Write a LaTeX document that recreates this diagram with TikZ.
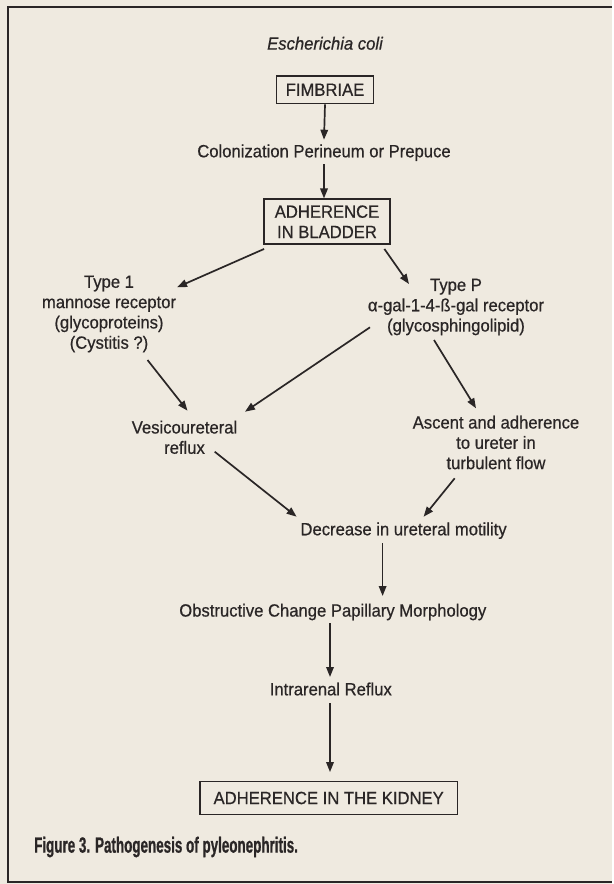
\documentclass[tikz,border=0pt]{standalone}
\usepackage{fontspec}
\setmainfont{Liberation Sans}[FakeStretch=0.94, FakeBold=0.6]
\newfontfamily\capfont{Liberation Sans}[FakeStretch=0.61, FakeBold=0.8]
\usepackage{tikz}
\usetikzlibrary{arrows.meta,calc}
\definecolor{paper}{RGB}{239,234,224}
\definecolor{ink}{RGB}{42,38,38}
\tikzset{
  txt/.style={text=ink, align=center, inner sep=0pt, font=\fontsize{17.7}{20.3}\selectfont},
  box/.style={txt, draw=ink, line width=1.8pt},
  arr/.style={draw=ink, line width=1.7pt, -{Triangle[length=10pt,width=7.5pt]}}
}

\begin{document}
\begin{tikzpicture}[x=1pt,y=-1pt]
\fill[paper] (0,0) rectangle (612,884);
\draw[ink, line width=2.2pt] (612,7) -- (8.3,7) -- (8.3,882) -- (612,882);
% main chain
\node[txt, font=\fontsize{17.7}{20.3}\selectfont\itshape] (ecoli) at (325,43.3) {Escherichia coli};
\node[box, minimum width=97pt, minimum height=27.5pt] (fimb) at (325,89.7) {FIMBRIAE};
\node[txt] (colon) at (324,152.7) {Colonization Perineum or Prepuce};
\node[box, minimum width=126pt, minimum height=44.7pt] (adh) at (327,221.7) {ADHERENCE\\IN BLADDER};
\node[txt] (type1) at (109,314) {Type 1\\mannose receptor\\(glycoproteins)\\(Cystitis ?)};
\node[txt] (typeP) at (456,307) {Type P\\α-gal-1-4-ß-gal receptor\\(glycosphingolipid)};
\node[txt] (vesico) at (184.5,437.3) {Vesicoureteral\\reflux};
\node[txt] (ascent) at (496,442.5) {Ascent and adherence\\to ureter in\\turbulent flow};
\node[txt] (decr) at (403.6,530.7) {Decrease in ureteral motility};
\node[txt] (obstr) at (332.8,612) {Obstructive Change Papillary Morphology};
\node[txt] (intra) at (330.8,689) {Intrarenal Reflux};
\node[box, minimum width=257.5pt, minimum height=33pt] (kidney) at (328.7,798) {ADHERENCE IN THE KIDNEY};
\node[anchor=west, text=ink, inner sep=0pt, font=\capfont\bfseries\fontsize{22}{25}\selectfont] (caption) at (34,847) {Figure 3. Pathogenesis of pyleonephritis.};
% arrows
\draw[arr] (fimb.south) -- ($(colon)+(0,-13)$);
\draw[arr] ($(colon)+(0,11.5)$) -- (colon |- adh.north);
\draw[arr] ($(adh.south west)+(1,4)$) -- ($(type1)+(68,-26.7)$);
\draw[arr] ($(adh.south east)+(-6.5,4)$) -- ($(typeP)+(-47,-23)$);
\draw[arr] ($(type1)+(38.5,46)$) -- ($(vesico)+(3,-26.6)$);
\draw[arr] ($(typeP)+(-86,20.3)$) -- ($(vesico)+(60.5,-25.6)$);
\draw[arr] ($(typeP)+(-22,33)$) -- ($(ascent)+(-20,-34.2)$);
\draw[arr] ($(vesico)+(30.2,14.4)$) -- ($(decr)+(-107,-14)$);
\draw[arr] ($(ascent)+(-41.3,35.8)$) -- ($(decr)+(20,-14)$);
\draw[arr] ($(decr)+(-21,12.6)$) -- ($(obstr)+(49.8,-16)$);
\draw[arr] ($(obstr)+(-2.8,11.3)$) -- ($(intra)+(-0.8,-12)$);
\draw[arr] ($(intra)+(-0.8,14.3)$) -- ($(kidney.north)+(1.3,-8.5)$);
\end{tikzpicture}
\end{document}
